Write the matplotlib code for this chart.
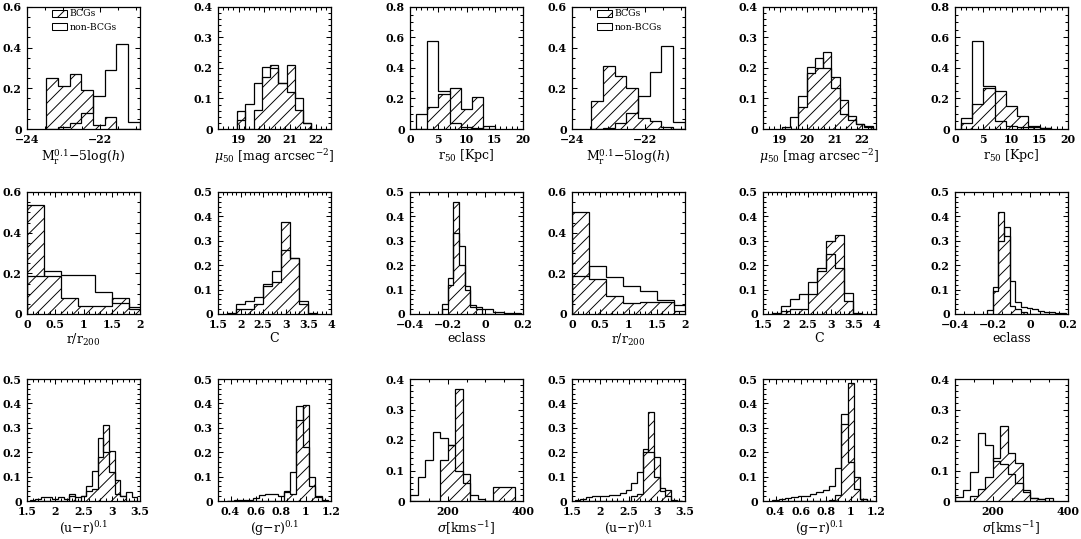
import matplotlib
matplotlib.use('Agg')
import matplotlib.pyplot as plt
from matplotlib.ticker import MultipleLocator, FuncFormatter
from matplotlib.patches import Patch

# fraction of galaxies per bin: BCGs (hatched) and non-BCGs (open)
mag_edges = [-23.47, -23.15, -22.83, -22.51, -22.19, -21.87, -21.55, -21.23, -20.91]
magA_bcg = [0.25, 0.21, 0.27, 0.19, 0.02, 0.06, 0.0, 0.0]
magA_non = [0.0, 0.01, 0.03, 0.08, 0.16, 0.29, 0.42, 0.035]
magB_bcg = [0.136, 0.31, 0.26, 0.20, 0.054, 0.038, 0.011, 0.0]
magB_non = [0.0, 0.005, 0.03, 0.08, 0.16, 0.28, 0.41, 0.035]

muA_edges = [18.95, 19.27, 19.59, 19.91, 20.23, 20.55, 20.87, 21.19, 21.51, 21.83]
muA_bcg = [0.06, 0.0, 0.061, 0.172, 0.21, 0.15, 0.21, 0.062, 0.02]
muA_non = [0.03, 0.083, 0.152, 0.204, 0.20, 0.15, 0.12, 0.10, 0.02]
muB_edges = [19.08, 19.38, 19.68, 19.98, 20.28, 20.58, 20.88, 21.18, 21.48, 21.78, 22.08, 22.38]
muB_bcg = [0.0, 0.0, 0.072, 0.185, 0.20, 0.253, 0.17, 0.094, 0.043, 0.018, 0.005]
muB_non = [0.005, 0.038, 0.108, 0.202, 0.234, 0.20, 0.134, 0.05, 0.03, 0.015, 0.01]

r50A_edges = [1, 3, 5, 7, 9, 11, 13, 15]
r50A_bcg = [0.0, 0.146, 0.23, 0.27, 0.13, 0.21, 0.0]
r50A_non = [0.10, 0.58, 0.25, 0.04, 0.01, 0.005, 0.02]
r50B_edges = [1, 3, 5, 7, 9, 11, 13, 15, 17]
r50B_bcg = [0.037, 0.163, 0.268, 0.25, 0.153, 0.083, 0.02, 0.005]
r50B_non = [0.072, 0.58, 0.283, 0.05, 0.02, 0.01, 0.01, 0.005]

rr_edges = [0.0, 0.3, 0.6, 0.9, 1.2, 1.5, 1.8, 2.1]
rrA_bcg = [0.535, 0.185, 0.08, 0.04, 0.04, 0.077, 0.024]
rrA_non = [0.185, 0.213, 0.193, 0.19, 0.11, 0.056, 0.035]
rrB_bcg = [0.502, 0.171, 0.09, 0.052, 0.057, 0.057, 0.016]
rrB_non = [0.188, 0.237, 0.18, 0.139, 0.114, 0.069, 0.046]

C_edges = [1.7, 1.9, 2.1, 2.3, 2.5, 2.7, 2.9, 3.1, 3.3, 3.5, 3.7]
CA_bcg = [0.0, 0.02, 0.02, 0.04, 0.115, 0.13, 0.376, 0.23, 0.04, 0.0]
CA_non = [0.004, 0.04, 0.054, 0.068, 0.124, 0.176, 0.264, 0.23, 0.054, 0.004]
CB_bcg = [0.0, 0.014, 0.02, 0.02, 0.08, 0.19, 0.30, 0.325, 0.055, 0.0]
CB_non = [0.004, 0.034, 0.062, 0.082, 0.133, 0.178, 0.246, 0.19, 0.086, 0.004]

ecl_edges = [-0.23, -0.20, -0.17, -0.14, -0.11, -0.08, -0.05, -0.02, 0.01, 0.04, 0.07, 0.10, 0.13, 0.16, 0.19]
eclA_bcg = [0.02, 0.12, 0.46, 0.20, 0.10, 0.03, 0.02, 0.0, 0.0, 0.0, 0.0, 0.0, 0.0, 0.0]
eclA_non = [0.04, 0.146, 0.33, 0.277, 0.115, 0.038, 0.03, 0.02, 0.02, 0.01, 0.008, 0.006, 0.005, 0.003]
eclB_bcg = [0.0, 0.096, 0.42, 0.32, 0.034, 0.02, 0.01, 0.0, 0.0, 0.0, 0.0, 0.0, 0.0, 0.0]
eclB_non = [0.015, 0.11, 0.30, 0.356, 0.137, 0.048, 0.03, 0.023, 0.02, 0.014, 0.01, 0.007, 0.005, 0.003]

ur_edges = [1.55, 1.65, 1.75, 1.85, 1.95, 2.05, 2.15, 2.25, 2.35, 2.45,
            2.55, 2.65, 2.75, 2.85, 2.95, 3.05, 3.15, 3.25, 3.35, 3.45]
urA_bcg = [0, 0, 0, 0, 0, 0, 0, 0.02, 0, 0.02, 0.04, 0.05, 0.18, 0.31, 0.205, 0.085, 0.02, 0, 0]
urA_non = [0.005, 0.01, 0.015, 0.015, 0.01, 0.015, 0.01, 0.03, 0.015, 0.02,
           0.06, 0.125, 0.26, 0.20, 0.12, 0.03, 0.02, 0.035, 0.015]
urB_bcg = [0, 0, 0, 0, 0, 0, 0, 0, 0, 0, 0.02, 0.03, 0.20, 0.366, 0.18, 0.04, 0.045, 0, 0]
urB_non = [0.005, 0.01, 0.018, 0.02, 0.02, 0.022, 0.025, 0.025, 0.031, 0.045,
           0.072, 0.12, 0.213, 0.20, 0.10, 0.052, 0.02, 0.005, 0.0]

gr_edges = [0.375, 0.425, 0.475, 0.525, 0.575, 0.625, 0.675, 0.725, 0.775,
            0.825, 0.875, 0.925, 0.975, 1.025, 1.075, 1.125, 1.175]
grA_bcg = [0, 0, 0, 0, 0, 0, 0, 0, 0, 0.035, 0.03, 0.33, 0.395, 0.10, 0.02, 0.0]
grA_non = [0.002, 0.003, 0.005, 0.005, 0.012, 0.025, 0.028, 0.028, 0.02, 0.04,
           0.12, 0.39, 0.22, 0.06, 0.015, 0.005]
grB_bcg = [0, 0, 0, 0, 0, 0, 0, 0, 0, 0.005, 0.025, 0.314, 0.482, 0.10, 0.01, 0.0]
grB_non = [0.005, 0.008, 0.012, 0.018, 0.02, 0.022, 0.03, 0.035, 0.045, 0.06,
           0.134, 0.355, 0.16, 0.05, 0.01, 0.0]

sigA_edges = [100, 120, 140, 160, 180, 200, 220, 240, 260, 280, 300, 320, 340, 360, 380]
sigA_bcg = [0, 0, 0, 0, 0.134, 0.184, 0.366, 0.09, 0, 0, 0, 0.045, 0.045, 0.045]
sigA_non = [0.02, 0.08, 0.134, 0.227, 0.205, 0.184, 0.10, 0.06, 0.02, 0.005, 0, 0, 0, 0]
sigB_edges = [100, 120, 140, 160, 180, 200, 220, 240, 260, 280, 300, 320, 340, 360]
sigB_bcg = [0.0, 0.0, 0.015, 0.04, 0.08, 0.14, 0.246, 0.156, 0.123, 0.036, 0.01, 0.005, 0.0]
sigB_non = [0.014, 0.036, 0.096, 0.222, 0.184, 0.13, 0.12, 0.09, 0.06, 0.03, 0.01, 0.005, 0.01]

mag_label = r'$\mathrm{M}_\mathrm{r}^{0.1}\mathrm{-5log}(h)$'
mu_label = r'$\mu_{50}$ [mag arcsec$^{-2}$]'
r50_label = r'r$_{50}$ [Kpc]'
rr_label = r'r/r$_{200}$'
ur_label = r'(u$-$r)$^{0.1}$'
gr_label = r'(g$-$r)$^{0.1}$'
sig_label = r'$\sigma$[kms$^{-1}$]'

plt.rcParams['font.family'] = 'DejaVu Serif'
plt.rcParams['mathtext.fontset'] = 'dejavuserif'
plt.rcParams['hatch.linewidth'] = 0.9

# (row, col, edges, bcg, non, xlim, xmajor, xminor, ymax, ymajor, yminor, xlabel, legend)
panels = [
    (0, 0, mag_edges, magA_bcg, magA_non, (-24, -20.9), 2, 0.5, 0.6, 0.2, 0.05, mag_label, True),
    (0, 1, muA_edges, muA_bcg, muA_non, (18.2, 22.6), 1, 0.2, 0.4, 0.1, 0.02, mu_label, False),
    (0, 2, r50A_edges, r50A_bcg, r50A_non, (0, 20), 5, 1, 0.8, 0.2, 0.05, r50_label, False),
    (0, 3, mag_edges, magB_bcg, magB_non, (-24, -20.9), 2, 0.5, 0.6, 0.2, 0.05, mag_label, True),
    (0, 4, muB_edges, muB_bcg, muB_non, (18.4, 22.5), 1, 0.2, 0.4, 0.1, 0.02, mu_label, False),
    (0, 5, r50B_edges, r50B_bcg, r50B_non, (0, 20), 5, 1, 0.8, 0.2, 0.05, r50_label, False),
    (1, 0, rr_edges, rrA_bcg, rrA_non, (0, 2), 0.5, 0.1, 0.6, 0.2, 0.05, rr_label, False),
    (1, 1, C_edges, CA_bcg, CA_non, (1.5, 4), 0.5, 0.1, 0.5, 0.1, 0.02, 'C', False),
    (1, 2, ecl_edges, eclA_bcg, eclA_non, (-0.4, 0.2), 0.2, 0.05, 0.5, 0.1, 0.02, 'eclass', False),
    (1, 3, rr_edges, rrB_bcg, rrB_non, (0, 2), 0.5, 0.1, 0.6, 0.2, 0.05, rr_label, False),
    (1, 4, C_edges, CB_bcg, CB_non, (1.5, 4), 0.5, 0.1, 0.5, 0.1, 0.02, 'C', False),
    (1, 5, ecl_edges, eclB_bcg, eclB_non, (-0.4, 0.2), 0.2, 0.05, 0.5, 0.1, 0.02, 'eclass', False),
    (2, 0, ur_edges, urA_bcg, urA_non, (1.5, 3.5), 0.5, 0.1, 0.5, 0.1, 0.02, ur_label, False),
    (2, 1, gr_edges, grA_bcg, grA_non, (0.3, 1.2), 0.2, 0.05, 0.5, 0.1, 0.02, gr_label, False),
    (2, 2, sigA_edges, sigA_bcg, sigA_non, (100, 400), 200, 50, 0.4, 0.1, 0.02, sig_label, False),
    (2, 3, ur_edges, urB_bcg, urB_non, (1.5, 3.5), 0.5, 0.1, 0.5, 0.1, 0.02, ur_label, False),
    (2, 4, gr_edges, grB_bcg, grB_non, (0.3, 1.2), 0.2, 0.05, 0.5, 0.1, 0.02, gr_label, False),
    (2, 5, sigB_edges, sigB_bcg, sigB_non, (100, 400), 200, 50, 0.4, 0.1, 0.02, sig_label, False),
]

W, H, DPI = 1081, 539, 75
col_left = [27, 218, 410, 572, 763, 955]
row_top = [7, 192, 379]
ax_w, ax_h = 113, 122


def tick_fmt(v, pos):
    if abs(v) < 1e-9:
        return '0'
    return ('%g' % round(v, 6)).replace('-', '\u2212')


fig = plt.figure(figsize=(W / DPI, H / DPI), dpi=DPI)

for (r, c, edges, bcg, non, xlim, xmaj, xmin, ymax, ymaj, ymin, xlabel, legend) in panels:
    ax = fig.add_axes([col_left[c] / W, (H - row_top[r] - ax_h) / H, ax_w / W, ax_h / H])
    ax.stairs(bcg, edges, fill=True, facecolor='none', edgecolor='k', hatch='//', lw=1.2)
    ax.stairs(non, edges, fill=False, color='k', lw=1.2)
    ax.set_xlim(*xlim)
    ax.set_ylim(0, ymax)
    ax.xaxis.set_major_locator(MultipleLocator(xmaj))
    ax.xaxis.set_minor_locator(MultipleLocator(xmin))
    ax.yaxis.set_major_locator(MultipleLocator(ymaj))
    ax.yaxis.set_minor_locator(MultipleLocator(ymin))
    ax.xaxis.set_major_formatter(FuncFormatter(tick_fmt))
    ax.yaxis.set_major_formatter(FuncFormatter(tick_fmt))
    ax.tick_params(which='both', direction='in', top=True, right=True, width=1.0)
    ax.tick_params(which='major', length=5, pad=5)
    ax.tick_params(which='minor', length=2.5)
    for lab in ax.get_xticklabels() + ax.get_yticklabels():
        lab.set_fontsize(10.5)
        lab.set_fontweight('bold')
    for s in ax.spines.values():
        s.set_linewidth(1.2)
    ax.set_xlabel(xlabel, fontsize=12, labelpad=2)
    if legend:
        handles = [Patch(facecolor='none', edgecolor='k', hatch='/', lw=1.0),
                   Patch(facecolor='none', edgecolor='k', lw=1.0)]
        ax.legend(handles, ['BCGs', 'non-BCGs'], loc='upper left', bbox_to_anchor=(0.22, 0.98),
                  frameon=False, fontsize=9, handlelength=1.6, handleheight=0.8,
                  handletextpad=0.3, labelspacing=0.45, borderpad=0, borderaxespad=0)

fig.savefig('out.png', dpi=DPI)
